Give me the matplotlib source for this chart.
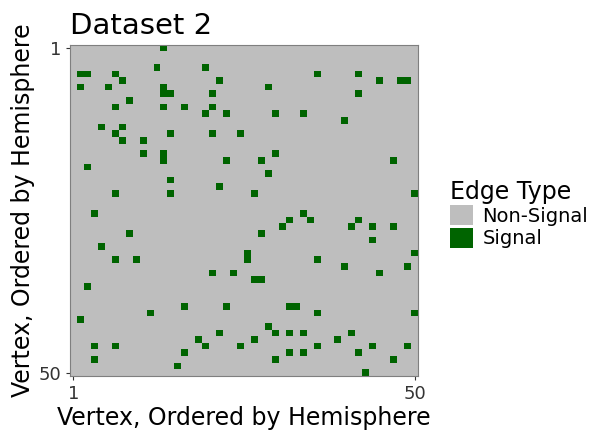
import numpy as np
import matplotlib
matplotlib.use("Agg")
import matplotlib.pyplot as plt
from matplotlib.colors import ListedColormap
from matplotlib.patches import Patch

n = 50
# (row, col) of signal edges, 1-based
signal_rows = [1,4,4,5,5,5,6,6,7,7,7,8,8,8,9,10,10,10,10,11,11,13,13,14,14,14,14,15,15,17,17,18,18,19,21,22,23,23,
               5,5,6,6,6,7,8,11,11,12,17,18,18,20,23,23,
               26,29,31,33,33,35,35,37,40,40,41,42,44,45,46,46,46,46,47,48,49,
               26,27,27,27,28,28,28,28,29,30,32,33,32,33,34,34,35,36,36,40,40,41,41,43,44,44,44,44,45,45,46,46,46,47,47,47,48,48,50]
signal_cols = [14,13,20,2,3,7,8,22,2,6,14,14,15,21,9,7,14,17,21,20,23,5,8,7,15,21,25,8,11,11,14,14,23,3,15,22,7,15,
               36,42,45,48,49,29,42,30,34,40,30,28,47,29,27,50,
               4,9,5,7,10,21,24,3,17,23,12,2,22,19,4,7,20,25,17,4,16,
               34,32,35,42,31,41,44,47,28,44,26,26,50,36,40,49,45,27,28,32,33,36,50,29,30,32,34,41,27,39,36,44,49,32,34,42,30,47,43]

mat = np.zeros((n, n))
for r, c in zip(signal_rows, signal_cols):
    mat[r-1, c-1] = 1

grey = "#bebebe"
green = "#006400"
fig = plt.figure(figsize=(5.98, 4.4), dpi=100)
ax = fig.add_axes([70/598, 1-376/440, 348/598, 331/440])
ax.imshow(mat, cmap=ListedColormap([grey, green]), vmin=0, vmax=1,
          extent=[0.5, n+0.5, n+0.5, 0.5], aspect="auto", interpolation="nearest")
ax.set_xticks([1, 50]); ax.set_yticks([1, 50])
ax.tick_params(colors="#333333", labelsize=13, length=3, color="#333333")
for s in ax.spines.values():
    s.set_color("#7f7f7f")
ax.set_xlabel("Vertex, Ordered by Hemisphere", fontsize=17, labelpad=2)
ax.set_ylabel("Vertex, Ordered by Hemisphere", fontsize=17, labelpad=2)
ax.set_title("Dataset 2", fontsize=21, loc="left", pad=8)
handles = [Patch(facecolor=grey, edgecolor="none", label="Non-Signal"),
           Patch(facecolor=green, edgecolor="none", label="Signal")]
leg = fig.legend(handles=handles, title="Edge Type", loc="upper left",
                 bbox_to_anchor=(432/598, 1-162/440), frameon=False, fontsize=14,
                 title_fontsize=17, handlelength=1.2, handleheight=1.2,
                 handletextpad=0.5, labelspacing=0.1, alignment="left")
fig.savefig("out.png", dpi=100)
